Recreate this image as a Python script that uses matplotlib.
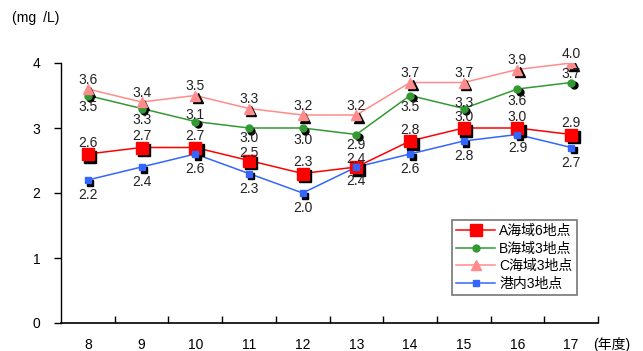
import matplotlib.pyplot as plt
import matplotlib.transforms as mtransforms

plt.rcParams['font.family'] = ['Liberation Sans', 'Noto Sans CJK JP']

years = ['8', '9', '10', '11', '12', '13', '14', '15', '16', '17']
area_a = [2.6, 2.7, 2.7, 2.5, 2.3, 2.4, 2.8, 3.0, 3.0, 2.9]
area_b = [3.5, 3.3, 3.1, 3.0, 3.0, 2.9, 3.5, 3.3, 3.6, 3.7]
area_c = [3.6, 3.4, 3.5, 3.3, 3.2, 3.2, 3.7, 3.7, 3.9, 4.0]
harbor = [2.2, 2.4, 2.6, 2.3, 2.0, 2.4, 2.6, 2.8, 2.9, 2.7]

# vertical label offsets in points (positive = above the point)
off_a = [8, 8, 8, 5.5, 8, 6, 8, 8, 8, 8]
off_b = [-8.5, -8.5, 5, -7.5, -8.5, -7.5, -8.5, 4, -8.5, 6]
off_c = [6.5] * 10
off_h = [-11, -11, -11, -11, -11, -10, -11, -11, -10, -11]

fig = plt.figure(figsize=(6.43, 3.51), dpi=100)
ax = fig.add_axes([61 / 643, 1 - 323 / 351, 537 / 643, 260 / 351])

x = list(range(len(years)))
shadow = mtransforms.offset_copy(ax.transData, fig, x=2.5, y=-2.5, units='dots')

series = [
    (area_a, 'A海域6地点', '#FF0000', 's', 8, off_a),
    (area_b, 'B海域3地点', '#339933', 'o', 5, off_b),
    (area_c, 'C海域3地点', '#FF8C8C', '^', 6.5, off_c),
    (harbor, '港内3地点', '#3366FF', 's', 5, off_h),
]

for vals, name, col, mk, ms, offs in series:
    ax.plot(x, vals, color=col, lw=1.1, zorder=2)
    ax.plot(x, vals, ls='none', marker=mk, ms=ms, color='black',
            mec='black', transform=shadow, zorder=3)
    ax.plot(x, vals, ls='none', marker=mk, ms=ms, color=col, mec=col, zorder=4)
    ax.plot([], [], color=col, lw=1.1, marker=mk, ms=ms, label=name)
    for xi, v, o in zip(x, vals, offs):
        ax.annotate(f'{v:.1f}', (xi, v), xytext=(0, o), textcoords='offset points',
                    ha='center', va='center', fontsize=10, color='#222222', zorder=5)

ax.set_xlim(-0.5, len(years) - 0.5)
ax.set_ylim(0, 4)
ax.set_yticks([0, 1, 2, 3, 4])
ax.set_xticks(x)
ax.set_xticklabels(years)
ax.set_xticks([i + 0.5 for i in x], minor=True)
ax.tick_params(axis='x', which='major', length=0, pad=11, labelsize=10)
ax.tick_params(axis='x', which='minor', direction='in', length=5, width=1)
ax.tick_params(axis='y', direction='out', length=5, width=1, pad=10, labelsize=10)
for s in ['top', 'right']:
    ax.spines[s].set_visible(False)
ax.spines['left'].set_linewidth(1)
ax.spines['bottom'].set_linewidth(1.2)

fig.text(12 / 643, 1 - 18 / 351, '(mg\u2002/L)', fontsize=10, va='center', ha='left')
fig.text(593 / 643, 1 - 344 / 351, '(年度)', fontsize=10, va='center', ha='left')

leg = ax.legend(loc='upper left', bbox_to_anchor=(445 / 643, 1 - 213 / 351),
                bbox_transform=fig.transFigure, fontsize=10, frameon=True,
                fancybox=False, edgecolor='#555555', handlelength=2.8,
                borderpad=0.3, labelspacing=0.25, handletextpad=0.3)
leg.get_frame().set_linewidth(1.2)

fig.savefig('out.png', dpi=100)
